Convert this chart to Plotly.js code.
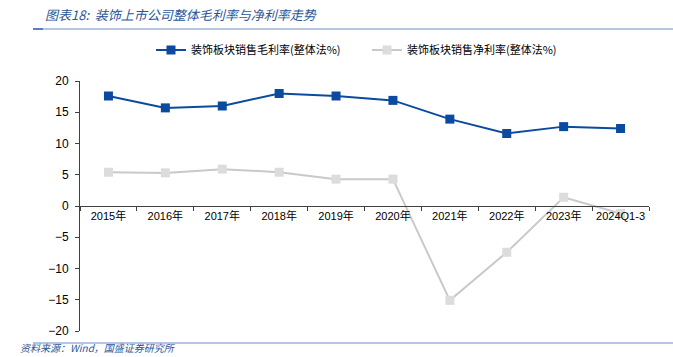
<!DOCTYPE html>
<html><head><meta charset="utf-8">
<script src="https://cdn.plot.ly/plotly-3.0.1.min.js"></script>
<style>body{margin:0;background:#fff}#c{width:673px;height:357px}</style>
</head><body><div id="c"></div>
<script>
var categories = ["2015年","2016年","2017年","2018年","2019年","2020年","2021年","2022年","2023年","2024Q1-3"];
var grossMargin = [17.6, 15.7, 16.0, 18.0, 17.6, 16.9, 13.9, 11.6, 12.7, 12.4];
var netMargin = [5.4, 5.3, 5.9, 5.4, 4.3, 4.3, -15.1, -7.4, 1.4, -1.2];
var grossName = "装饰板块销售毛利率(整体法%)";
var netName = "装饰板块销售净利率(整体法%)";
var yTicks = [-20,-15,-10,-5,0,5,10,15,20];

var F = "Liberation Sans, Noto Sans CJK SC, sans-serif";
var traces = [
 {x:categories, y:grossMargin, name:grossName, type:'scatter', mode:'lines+markers',
  line:{color:'#0B4A9E', width:2}, marker:{symbol:'square', size:9, color:'#0B4A9E'}},
 {x:categories, y:netMargin, name:netName, type:'scatter', mode:'lines+markers',
  line:{color:'#C9C9C9', width:2}, marker:{symbol:'square', size:9, color:'#DCDCDC'}}
];
var layout = {
 width:673, height:357, margin:{l:80, r:24, t:81, b:26},
 paper_bgcolor:'#fff', plot_bgcolor:'#fff', font:{family:F, size:11, color:'#000'},
 showlegend:true,
 legend:{orientation:'h', x:(151-80)/569, y:(331-50)/250, xanchor:'left', yanchor:'middle', entrywidth:171, entrywidthmode:'pixels',
   font:{family:"Noto Sans CJK SC, sans-serif", size:11, color:'#000'}, itemwidth:30, bgcolor:'rgba(0,0,0,0)'},
 xaxis:{type:'category', range:[-0.5,9.5], anchor:'free', position:0.5, showline:true, linecolor:'#404040', linewidth:1,
   ticks:'outside', tickson:'boundaries', ticklen:4, tickcolor:'#404040', showgrid:false, zeroline:false,
   tickangle:0, tickfont:{family:F, size:11}, fixedrange:true},
 yaxis:{range:[-20,20], tickvals:yTicks, showline:true, linecolor:'#404040', linewidth:1, ticks:'outside', ticklen:4,
   tickcolor:'#404040', showgrid:false, zeroline:false, tickfont:{family:F, size:12}, ticklabelstandoff:4},
 annotations:[
  {xref:'paper', yref:'paper', x:(43-80)/569, y:(331-14)/250, xanchor:'left', yanchor:'middle', showarrow:false,
   text:'<i>图表18:  装饰上市公司整体毛利率与净利率走势</i>', font:{family:"Noto Sans CJK SC, sans-serif", size:13, color:'#2B5597'}},
  {xref:'paper', yref:'paper', x:(18-80)/569, y:(331-357)/250, xanchor:'left', yanchor:'bottom', showarrow:false,
   text:'<i>资料来源：Wind，国盛证券研究所</i>', font:{family:"Noto Sans CJK SC, sans-serif", size:10, color:'#2B5597'}}
 ],
 shapes:[
  {type:'line', xref:'paper', yref:'paper', x0:(33-80)/569, x1:(673-80)/569, y0:(331-29)/250, y1:(331-29)/250, line:{color:'#9DB3DA', width:1.5}},
  {type:'line', xref:'paper', yref:'paper', x0:(33-80)/569, x1:(43-80)/569, y0:(331-29)/250, y1:(331-29)/250, line:{color:'#5B7FC0', width:2}},
  {type:'line', xref:'paper', yref:'paper', x0:(33-80)/569, x1:(673-80)/569, y0:(331-343)/250, y1:(331-343)/250, line:{color:'#9DB3DA', width:1.5}}
 ]
};
Plotly.newPlot('c', traces, layout, {staticPlot:true});
</script></body></html>
